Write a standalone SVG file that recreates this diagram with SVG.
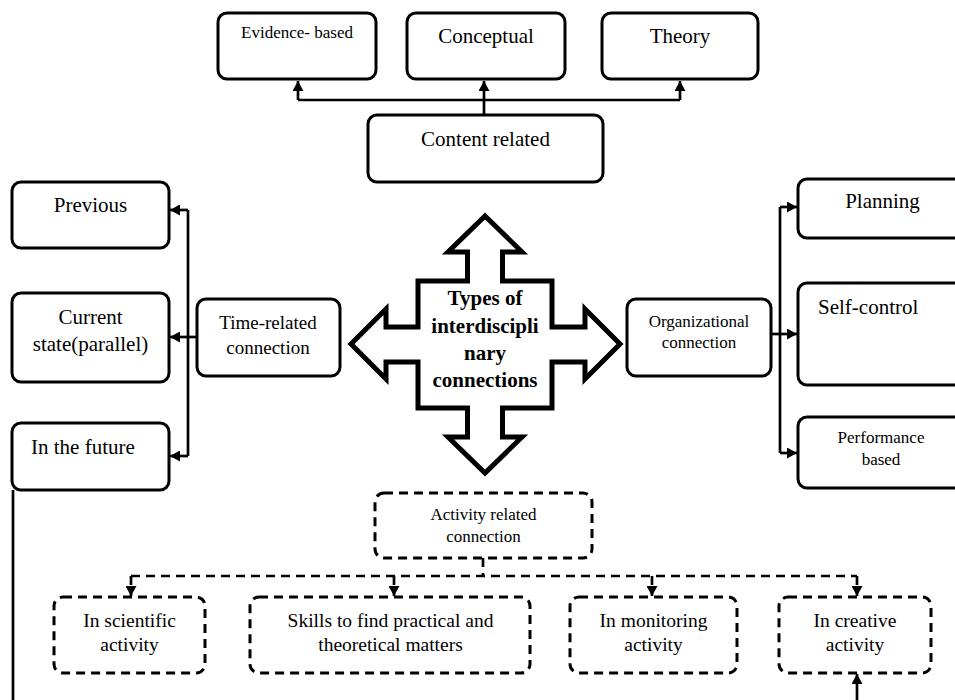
<svg xmlns="http://www.w3.org/2000/svg" width="955" height="700" viewBox="0 0 955 700">
<defs>
<marker id="ah" markerUnits="userSpaceOnUse" markerWidth="11" markerHeight="11" refX="10" refY="5.5" orient="auto">
<path d="M0,0 L10,5.5 L0,11 z" fill="#000" stroke="none"/>
</marker>
</defs>
<style>
.box{fill:#fff;stroke:#000;stroke-width:3}
.dbox{fill:#fff;stroke:#000;stroke-width:3;stroke-dasharray:9 6}
.ln{fill:none;stroke:#000;stroke-width:2.7}
.dln{fill:none;stroke:#000;stroke-width:2.7;stroke-dasharray:9 6}
text{font-family:"Liberation Serif","Times New Roman",serif;fill:#000;text-anchor:middle}
.s17{font-size:17px}
.s19{font-size:19px}
.s195{font-size:19.5px}
.s21{font-size:21px}
.b{font-weight:bold;font-size:21px}
</style>
<rect width="955" height="700" fill="#fff"/>

<g id="connectors">
<path class="ln" d="M484,115 V81" marker-end="url(#ah)"/>
<path class="ln" d="M298,100 H680"/>
<path class="ln" d="M298,100 V81" marker-end="url(#ah)"/>
<path class="ln" d="M680,100 V81" marker-end="url(#ah)"/>
<path class="ln" d="M188,210 V456"/>
<path class="ln" d="M188,210 H170" marker-end="url(#ah)"/>
<path class="ln" d="M197,337 H170" marker-end="url(#ah)"/>
<path class="ln" d="M188,456 H170" marker-end="url(#ah)"/>
<path class="ln" d="M780,207 V453"/>
<path class="ln" d="M780,207 H797" marker-end="url(#ah)"/>
<path class="ln" d="M771,334 H797" marker-end="url(#ah)"/>
<path class="ln" d="M780,453 H797" marker-end="url(#ah)"/>
<path class="dln" d="M483,558 V576"/>
<path class="dln" d="M131,576 H857"/>
<path class="dln" d="M131,576 V596" marker-end="url(#ah)"/>
<path class="dln" d="M394,576 V596" marker-end="url(#ah)"/>
<path class="dln" d="M652,576 V596" marker-end="url(#ah)"/>
<path class="dln" d="M857,576 V596" marker-end="url(#ah)"/>
<path class="ln" d="M13,490 V700"/>
<path class="ln" d="M857,700 V674" marker-end="url(#ah)"/>
</g>

<g id="center">
<polygon points="485,216 522,252 502.5,252 502.5,281 552,281 552,327 585,327 585,309 620,344 585,379 585,362 552,362 552,408 502.5,408 502.5,437 522,437 485,473 448,437 467.5,437 467.5,408 418,408 418,362 386,362 386,379 351,344 386,309 386,327 418,327 418,281 467.5,281 467.5,252 448,252" fill="#fff" stroke="#000" stroke-width="5" stroke-linejoin="miter"/>
<text class="b" x="485" y="305">Types of</text>
<text class="b" x="485" y="333">interdiscipli</text>
<text class="b" x="485" y="360">nary</text>
<text class="b" x="485" y="387">connections</text>
</g>

<g id="evidence">
<rect class="box" x="218" y="13" width="158" height="66" rx="9"/>
<text class="s17" x="297" y="38">Evidence- based</text>
</g>
<g id="conceptual">
<rect class="box" x="407" y="13" width="158" height="66" rx="9"/>
<text class="s21" x="486" y="42.5">Conceptual</text>
</g>
<g id="theory">
<rect class="box" x="602" y="13" width="156" height="66" rx="9"/>
<text class="s21" x="680" y="42.5">Theory</text>
</g>
<g id="content">
<rect class="box" x="368" y="115" width="235" height="67" rx="9"/>
<text class="s21" x="485.5" y="145.5">Content related</text>
</g>

<g id="previous">
<rect class="box" x="12" y="182" width="157" height="66" rx="9"/>
<text class="s21" x="90.5" y="212">Previous</text>
</g>
<g id="current">
<rect class="box" x="12" y="293" width="157" height="89" rx="9"/>
<text class="s21" x="90.5" y="324">Current</text>
<text class="s21" x="90.5" y="351">state(parallel)</text>
</g>
<g id="future">
<rect class="box" x="12" y="423" width="157" height="67" rx="9"/>
<text class="s21" x="31" y="454" style="text-anchor:start">In the future</text>
</g>
<g id="time">
<rect class="box" x="197" y="299" width="143" height="77" rx="9"/>
<text class="s19" x="268" y="329">Time-related</text>
<text class="s19" x="268" y="354">connection</text>
</g>

<g id="org">
<rect class="box" x="627" y="299" width="144" height="77" rx="9"/>
<text class="s17" x="699" y="327">Organizational</text>
<text class="s17" x="699" y="348">connection</text>
</g>
<g id="planning">
<rect class="box" x="798" y="179" width="170" height="59" rx="9"/>
<text class="s21" x="882.5" y="207.5">Planning</text>
</g>
<g id="selfcontrol">
<rect class="box" x="798" y="283" width="170" height="102" rx="9"/>
<text class="s21" x="818" y="314" style="text-anchor:start">Self-control</text>
</g>
<g id="performance">
<rect class="box" x="798" y="417" width="170" height="71" rx="9"/>
<text class="s17" x="881" y="443">Performance</text>
<text class="s17" x="881" y="465">based</text>
</g>

<g id="activity">
<rect class="dbox" x="375" y="493" width="217" height="65" rx="9"/>
<text class="s17" x="483.5" y="519.5">Activity related</text>
<text class="s17" x="483.5" y="541.5">connection</text>
</g>
<g id="scientific">
<rect class="dbox" x="54" y="597" width="151" height="76" rx="9"/>
<text class="s195" x="129.5" y="626.5">In scientific</text>
<text class="s195" x="129.5" y="651">activity</text>
</g>
<g id="skills">
<rect class="dbox" x="250" y="597" width="280" height="76" rx="9"/>
<text class="s195" x="390.5" y="626.5">Skills to find practical and</text>
<text class="s195" x="390.5" y="651">theoretical matters</text>
</g>
<g id="monitoring">
<rect class="dbox" x="570" y="597" width="167" height="76" rx="9"/>
<text class="s195" x="653.5" y="626.5">In monitoring</text>
<text class="s195" x="653.5" y="651">activity</text>
</g>
<g id="creative">
<rect class="dbox" x="779" y="597" width="152" height="76" rx="9"/>
<text class="s195" x="855" y="626.5">In creative</text>
<text class="s195" x="855" y="651">activity</text>
</g>
</svg>
